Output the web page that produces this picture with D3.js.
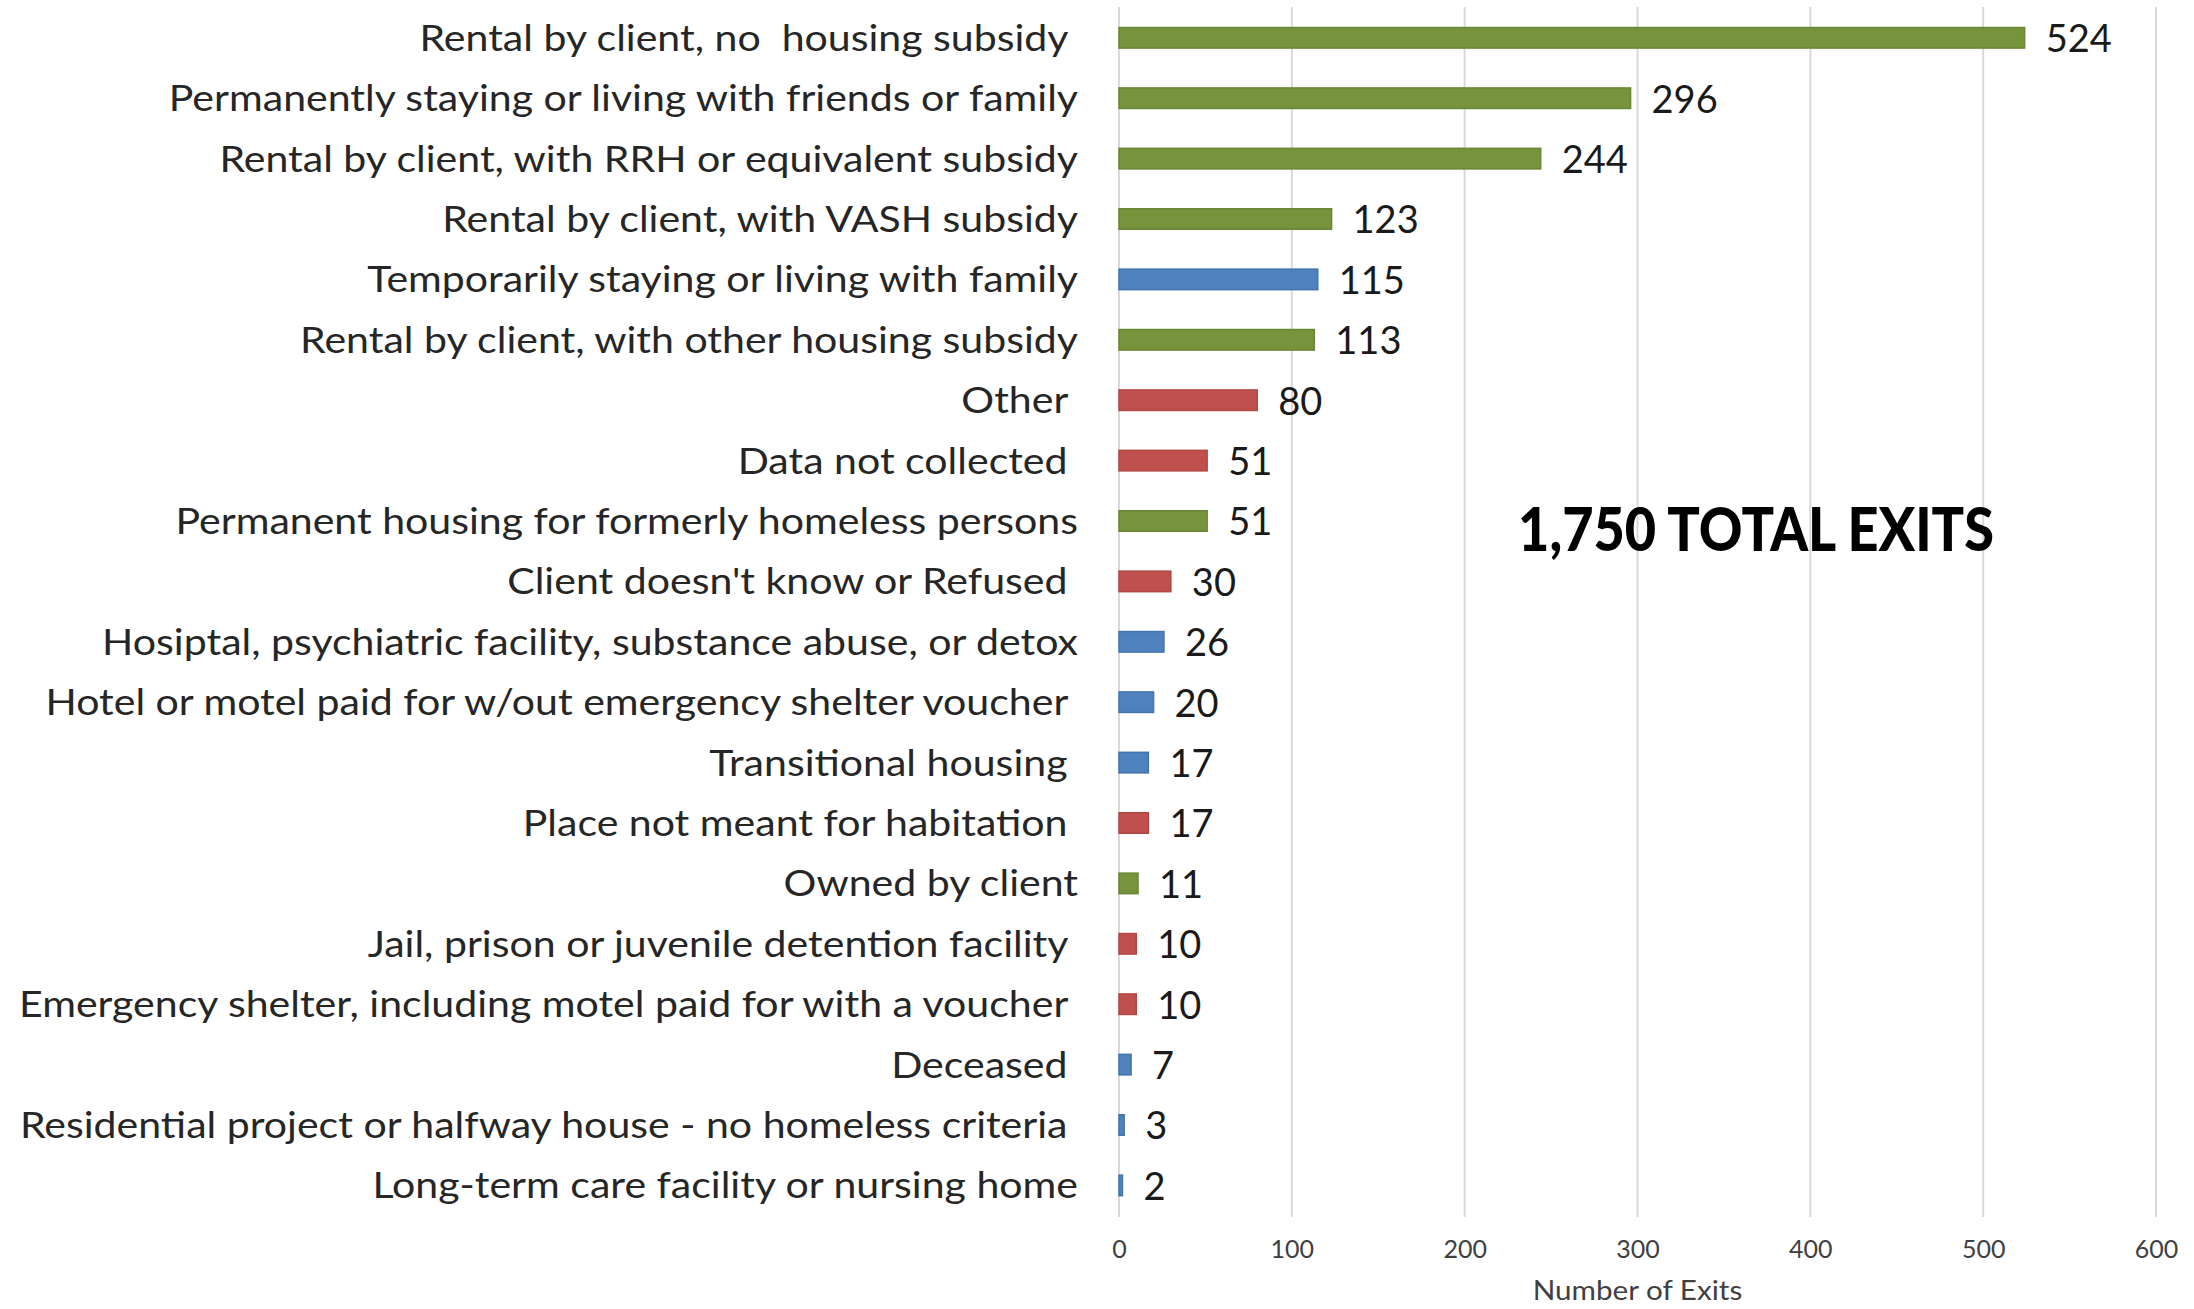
<!DOCTYPE html>
<html>
<head>
<meta charset="utf-8">
<script src="https://cdn.jsdelivr.net/npm/d3@7"></script>
<style>
  html, body { margin: 0; padding: 0; background: #ffffff; }
  svg { display: block; }
  text { white-space: pre; }
</style>
</head>
<body>
<svg id="chart" width="2194" height="1309" xml:space="preserve"></svg>
<script>
const categories = [
  "Rental by client, no  housing subsidy ",
  "Permanently staying or living with friends or family",
  "Rental by client, with RRH or equivalent subsidy",
  "Rental by client, with VASH subsidy",
  "Temporarily staying or living with family",
  "Rental by client, with other housing subsidy",
  "Other ",
  "Data not collected ",
  "Permanent housing for formerly homeless persons",
  "Client doesn't know or Refused ",
  "Hosiptal, psychiatric facility, substance abuse, or detox",
  "Hotel or motel paid for w/out emergency shelter voucher ",
  "Transitional housing ",
  "Place not meant for habitation ",
  "Owned by client",
  "Jail, prison or juvenile detention facility ",
  "Emergency shelter, including motel paid for with a voucher ",
  "Deceased ",
  "Residential project or halfway house - no homeless criteria ",
  "Long-term care facility or nursing home"
];
const values = [524, 296, 244, 123, 115, 113, 80, 51, 51, 30, 26, 20, 17, 17, 11, 10, 10, 7, 3, 2];
const groups = ["perm","perm","perm","perm","temp","perm","other","other","perm","other",
                "temp","temp","temp","other","perm","other","other","temp","temp","temp"];
const groupNames = ["perm", "temp", "other"];
const groupFill = ["#77933c", "#4f81bd", "#c0504d"];
const groupStroke = ["#6b8636", "#4474ad", "#b04845"];
const xTicks = [0, 100, 200, 300, 400, 500, 600];
const axisTitle = "Number of Exits";
const totalText = "1,750 TOTAL EXITS";

const svg = d3.select("#chart");
const x = d3.scaleLinear().domain([0, 600]).range([1119, 2156]);
const y = d3.scaleBand().domain(categories).range([7.6, 1215.6]).paddingInner(0.66).paddingOuter(0.33);
const fill = d3.scaleOrdinal().domain(groupNames).range(groupFill);
const stroke = d3.scaleOrdinal().domain(groupNames).range(groupStroke);
const stretch = 1.14; // horizontal widening to mimic a Calibri-like face

// gridlines
svg.append("g").selectAll("line").data(xTicks).join("line")
  .attr("x1", d => x(d)).attr("x2", d => x(d))
  .attr("y1", 7).attr("y2", 1217)
  .attr("stroke", "#d9d9d9").attr("stroke-width", 2);

// x axis tick labels
const xAxis = d3.axisBottom(x).tickValues(xTicks).tickSize(0).tickPadding(0);
const gx = svg.append("g").attr("transform", "translate(0,1249)").call(xAxis);
gx.select(".domain").remove();
gx.selectAll("text")
  .attr("dy", "0.35em").attr("y", 0)
  .attr("font-family", "Lato, sans-serif").attr("font-size", 25)
  .attr("fill", "#404040");

const title = svg.append("text")
  .attr("x", x(300)).attr("y", 1291).attr("dy", "0.35em")
  .attr("text-anchor", "middle")
  .attr("font-family", "Lato, sans-serif").attr("font-size", 26)
  .attr("fill", "#404040")
  .text(axisTitle);
title.attr("textLength", title.node().getComputedTextLength() * stretch)
  .attr("lengthAdjust", "spacingAndGlyphs");

const data = categories.map((c, i) => ({cat: c, val: values[i], grp: groups[i]}));

// bars
svg.append("g").selectAll("rect").data(data).join("rect")
  .attr("x", x(0)).attr("y", d => y(d.cat))
  .attr("width", d => x(d.val) - x(0))
  .attr("height", y.bandwidth())
  .attr("fill", d => fill(d.grp))
  .attr("stroke", d => stroke(d.grp)).attr("stroke-width", 1.5);

// category labels
const labels = svg.append("g").selectAll("text").data(data).join("text")
  .attr("x", 1078).attr("y", d => y(d.cat) + y.bandwidth() / 2).attr("dy", "0.36em")
  .attr("text-anchor", "end")
  .attr("font-family", "Lato, sans-serif").attr("font-size", 36)
  .attr("fill", "#262626")
  .text(d => d.cat);
labels.each(function() {
  const len = this.getComputedTextLength();
  d3.select(this).attr("textLength", len * stretch).attr("lengthAdjust", "spacingAndGlyphs");
});

// value labels
svg.append("g").selectAll("text").data(data).join("text")
  .attr("x", d => x(d.val) + 21).attr("y", d => y(d.cat) + y.bandwidth() / 2).attr("dy", "0.38em")
  .attr("font-family", "Lato, sans-serif").attr("font-size", 38)
  .attr("fill", "#1a1a1a")
  .text(d => d.val);

// total annotation
const total = svg.append("text")
  .attr("x", 1756).attr("y", 529).attr("dy", "0.36em")
  .attr("text-anchor", "middle")
  .attr("font-family", "Lato, sans-serif").attr("font-weight", 900).attr("font-size", 60)
  .attr("fill", "#000000")
  .text(totalText);
total.attr("textLength", total.node().getComputedTextLength() * 0.9)
  .attr("lengthAdjust", "spacingAndGlyphs");
</script>
</body>
</html>
